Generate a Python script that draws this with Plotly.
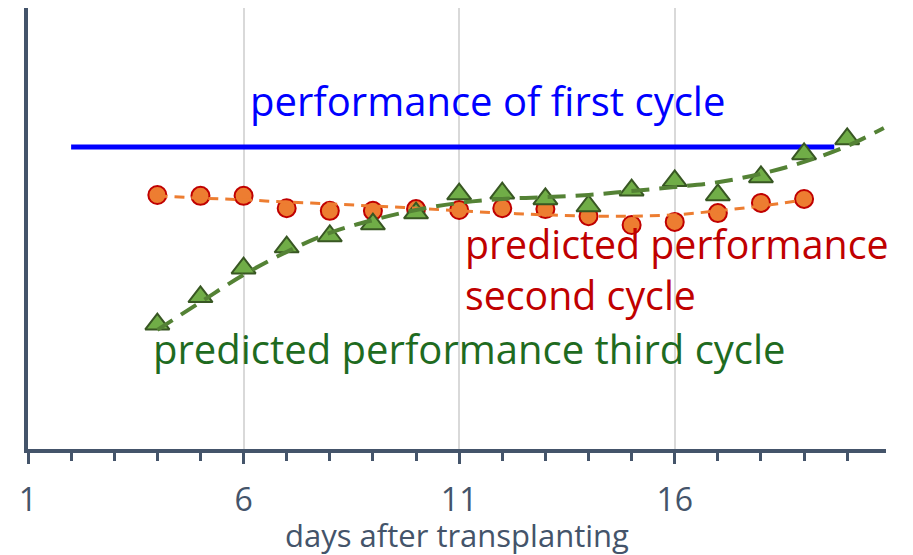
import plotly.graph_objects as go

# days after transplanting
days_second = list(range(4, 20))
days_third = list(range(4, 21))

# predicted performance, second cycle (arbitrary units)
second_cycle = [57.6, 57.4, 57.4, 54.6, 54.0, 54.0, 54.4, 54.2,
                54.6, 54.4, 52.8, 50.8, 51.5, 53.5, 55.8, 56.7]
second_trend = [57.4, 56.9, 56.5, 56.0, 55.6, 55.1, 54.6, 54.0,
                53.5, 53.1, 52.8, 52.8, 53.1, 54.0, 55.1, 56.5]

# predicted performance, third cycle
third_cycle = [28.3, 34.5, 41.0, 45.8, 48.3, 51.0, 53.5, 57.8, 58.0,
               56.7, 55.1, 58.7, 60.8, 57.6, 61.7, 66.9, 70.3]
trend_days_third = list(range(4, 21)) + [20.85]
third_trend = [27.0, 33.3, 39.5, 44.7, 49.0, 51.9, 54.2, 55.8, 56.7,
               57.1, 57.6, 58.5, 59.4, 60.5, 62.4, 65.1, 68.7, 72.8]

# performance of first cycle
first_days = [2, 19.7]
first_level = [68.5, 68.5]

axis_col = "#44546A"
font = "Open Sans"

fig = go.Figure()

fig.add_trace(go.Scatter(x=first_days, y=first_level, mode="lines",
                         line=dict(color="#0000FF", width=5)))

fig.add_trace(go.Scatter(x=days_second, y=second_cycle, mode="markers",
                         marker=dict(symbol="circle", size=18, color="#ED7D31",
                                     line=dict(color="#C00000", width=2))))

fig.add_trace(go.Scatter(x=days_third, y=third_cycle, mode="markers",
                         marker=dict(symbol="triangle-up", size=21, color="#70AD47",
                                     line=dict(color="#385723", width=2))))

fig.add_trace(go.Scatter(x=days_second, y=second_trend, mode="lines",
                         line=dict(color="#ED7D31", width=3, dash="10px,7px",
                                   shape="spline")))

fig.add_trace(go.Scatter(x=trend_days_third, y=third_trend, mode="lines",
                         line=dict(color="#548235", width=4, dash="18px,10px",
                                   shape="spline")))

fig.add_annotation(x=6.1, y=79.1, text="performance of first cycle",
                   showarrow=False, xanchor="left", yanchor="middle",
                   font=dict(family=font, size=40, color="#0000FF"))
fig.add_annotation(x=11.1, y=40.6, text="predicted performance<br>second cycle",
                   showarrow=False, xanchor="left", yanchor="middle", align="left",
                   font=dict(family=font, size=39.3, color="#C00000"))
fig.add_annotation(x=3.85, y=22.9, text="predicted performance third cycle",
                   showarrow=False, xanchor="left", yanchor="middle",
                   font=dict(family=font, size=40, color="#1F6B1F"))

# x axis title, placed below the tick labels
fig.add_annotation(x=0.5, y=-0.196, xref="paper", yref="paper",
                   text="days after transplanting", showarrow=False,
                   xanchor="center", yanchor="middle",
                   font=dict(family=font, size=31, color=axis_col))

fig.update_layout(
    width=913, height=555,
    margin=dict(l=20, r=35, t=0, b=114),
    paper_bgcolor="white", plot_bgcolor="white",
    showlegend=False,
    font=dict(family=font, color=axis_col),
)

fig.update_xaxes(
    range=[1, 20.9], tick0=1, dtick=5,
    showline=True, linecolor=axis_col, linewidth=4,
    ticks="outside", ticklen=11, tickwidth=3, tickcolor=axis_col,
    tickfont=dict(size=32, color=axis_col), ticklabelstandoff=9,
    showgrid=True, gridcolor="#D9D9D9", gridwidth=2,
    minor=dict(dtick=1, ticks="outside", ticklen=8, tickwidth=3,
               tickcolor=axis_col, showgrid=False),
    zeroline=False,
)

fig.update_yaxes(
    range=[0, 100], showline=True, linecolor=axis_col, linewidth=4,
    showticklabels=False, ticks="", showgrid=False, zeroline=False,
)

fig.write_html("out.html")
